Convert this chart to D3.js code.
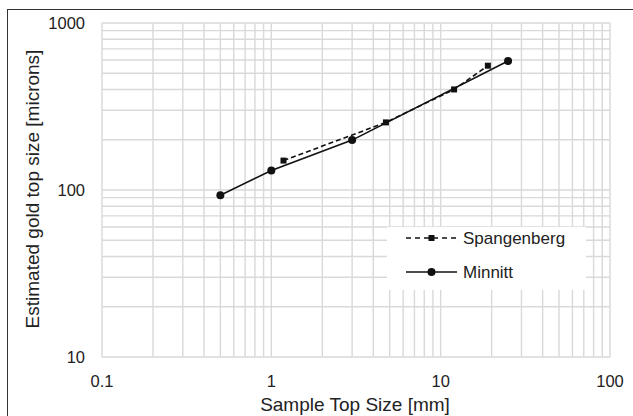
<!DOCTYPE html>
<html>
<head>
<meta charset="utf-8">
<script src="https://cdn.jsdelivr.net/npm/d3@7"></script>
<style>
  body { margin: 0; background: #fff; }
  text { font-family: "Liberation Sans", Arial, sans-serif; fill: #222; }
</style>
</head>
<body>
<svg width="633" height="416"></svg>
<script>
    // data
    const spangX = [1.18, 4.75, 12, 19]
    const spangY = [150, 254, 400, 555]
    const minnittX = [0.5, 1, 3, 25]
    const minnittY = [93, 131, 199, 592]
    const xTickLabels = [0.1, 1, 10, 100]
    const yTickLabels = [10, 100, 1000]

    const svg = d3.select('svg')
    const xs = d3.scaleLog().domain([0.1, 100]).range([102, 610])
    const ys = d3.scaleLog().domain([10, 1000]).range([357, 23])

    // outer frame
    svg.append('rect').attr('x', 7.5).attr('y', 9.5).attr('width', 700).attr('height', 500)
      .attr('fill', 'none').attr('stroke', '#333').attr('stroke-width', 1)

    // grid lines (major + minor)
    const xGrid = [], yGrid = []
    for (let d = 0.1; d < 100; d *= 10) for (let k = 1; k < 10; k++) xGrid.push(d * k)
    xGrid.push(100)
    for (let d = 10; d < 1000; d *= 10) for (let k = 1; k < 10; k++) yGrid.push(d * k)
    yGrid.push(1000)

    const grid = svg.append('g').attr('stroke', '#d9d9d9').attr('stroke-width', 1.4)
    grid.selectAll('line.v').data(xGrid).enter().append('line').attr('class', 'v')
      .attr('x1', function(d) {return xs(d)}).attr('x2', function(d) {return xs(d)})
      .attr('y1', ys(10)).attr('y2', ys(1000))
    grid.selectAll('line.h').data(yGrid).enter().append('line').attr('class', 'h')
      .attr('y1', function(d) {return ys(d)}).attr('y2', function(d) {return ys(d)})
      .attr('x1', xs(0.1)).attr('x2', xs(100))

    // tick labels
    svg.append('g').selectAll('text').data(xTickLabels).enter().append('text')
      .attr('x', function(d) {return xs(d)})
      .attr('y', 387)
      .attr('text-anchor', 'middle')
      .attr('font-size', 16.5)
      .text(function(d) {return d})
    svg.append('g').selectAll('text').data(yTickLabels).enter().append('text')
      .attr('x', 85)
      .attr('y', function(d) {return ys(d) + 6})
      .attr('text-anchor', 'end')
      .attr('font-size', 16.5)
      .text(function(d) {return d})

    // axis titles
    svg.append('text').attr('x', 355).attr('y', 411).attr('text-anchor', 'middle')
      .attr('font-size', 19).text('Sample Top Size [mm]')
    svg.append('text').attr('transform', 'translate(39,189) rotate(-90)').attr('text-anchor', 'middle')
      .attr('font-size', 19).text('Estimated gold top size [microns]')

    const line = d3.line().x(function(d) {return xs(d[0])}).y(function(d) {return ys(d[1])})
    const spang = d3.zip(spangX, spangY)
    const minn = d3.zip(minnittX, minnittY)

    svg.append('path').datum(spang).attr('d', line).attr('fill', 'none')
      .attr('stroke', '#111').attr('stroke-width', 1.6).attr('stroke-dasharray', '5,3')
    svg.append('g').selectAll('rect').data(spang).enter().append('rect')
      .attr('x', function(d) {return xs(d[0]) - 3}).attr('y', function(d) {return ys(d[1]) - 3})
      .attr('width', 6).attr('height', 6).attr('fill', '#111')

    svg.append('path').datum(minn).attr('d', line).attr('fill', 'none')
      .attr('stroke', '#111').attr('stroke-width', 1.6)
    svg.append('g').selectAll('circle').data(minn).enter().append('circle')
      .attr('cx', function(d) {return xs(d[0])}).attr('cy', function(d) {return ys(d[1])})
      .attr('r', 4).attr('fill', '#111')

    // legend
    const lg = svg.append('g')
    lg.append('rect').attr('x', 387).attr('y', 227).attr('width', 199).attr('height', 63).attr('fill', '#fff')
    lg.append('line').attr('x1', 406).attr('x2', 457).attr('y1', 238).attr('y2', 238)
      .attr('stroke', '#111').attr('stroke-width', 1.6).attr('stroke-dasharray', '5,4')
    lg.append('rect').attr('x', 428.5).attr('y', 235).attr('width', 6).attr('height', 6).attr('fill', '#111')
    lg.append('text').attr('x', 463).attr('y', 244).attr('font-size', 17).text('Spangenberg')
    lg.append('line').attr('x1', 406).attr('x2', 457).attr('y1', 272).attr('y2', 272)
      .attr('stroke', '#111').attr('stroke-width', 1.6)
    lg.append('circle').attr('cx', 431.5).attr('cy', 272).attr('r', 4).attr('fill', '#111')
    lg.append('text').attr('x', 463).attr('y', 278).attr('font-size', 17).text('Minnitt')
</script>
</body>
</html>
